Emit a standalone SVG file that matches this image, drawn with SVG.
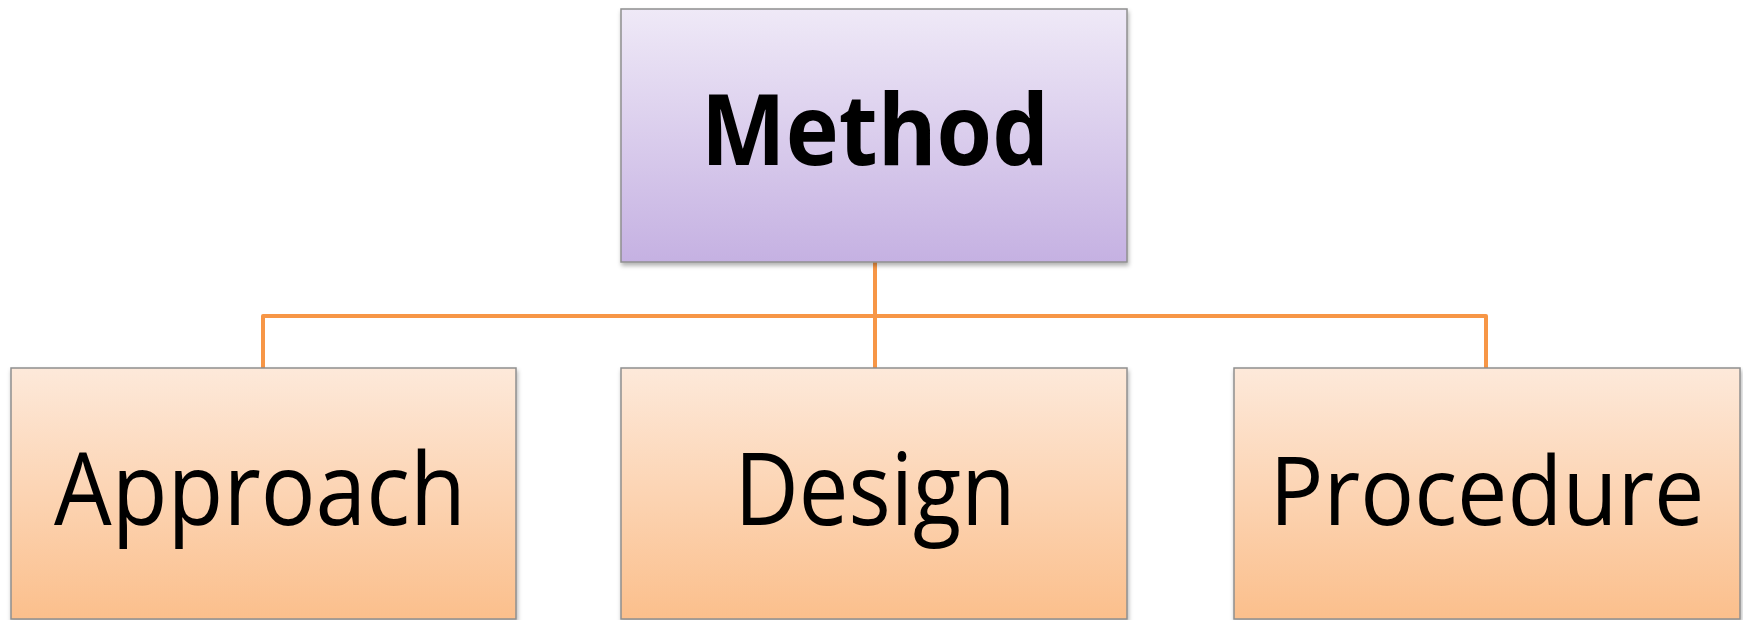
<svg xmlns="http://www.w3.org/2000/svg" width="1743" height="620" viewBox="0 0 1743 620">
<style>
.box{stroke:#8f8f8f;stroke-width:1.5}
.lbl{font-family:"Open Sans","Noto Sans",sans-serif;fill:#000;text-anchor:middle}
.sub{font-size:101px}
.conn{fill:none;stroke:#F79646;stroke-width:4;stroke-linejoin:round}
</style>
<defs>
<linearGradient id="gPurple" x1="0" y1="0" x2="0" y2="1">
<stop offset="0" stop-color="#EFE9F7"/>
<stop offset="1" stop-color="#C5B1E2"/>
</linearGradient>
<linearGradient id="gOrange" x1="0" y1="0" x2="0" y2="1">
<stop offset="0" stop-color="#FDE9DA"/>
<stop offset="1" stop-color="#FBBF8C"/>
</linearGradient>
<filter id="sh" x="-5%" y="-5%" width="110%" height="115%">
<feDropShadow dx="1" dy="3" stdDeviation="2" flood-color="#000" flood-opacity="0.3"/>
</filter>
</defs>
<g id="connectors">
<path class="conn" d="M875 262 V368"/>
<path class="conn" d="M263 368 V316 H1486 V368"/>
</g>
<g id="method">
<rect class="box" x="621" y="9" width="506" height="253" fill="url(#gPurple)" filter="url(#sh)"/>
<text class="lbl" x="875" y="165" font-size="99" font-weight="bold" textLength="348" lengthAdjust="spacingAndGlyphs">Method</text>
</g>
<g id="approach">
<rect class="box" x="11" y="368" width="505" height="251" fill="url(#gOrange)" filter="url(#sh)"/>
<text class="lbl sub" x="260" y="525" textLength="412" lengthAdjust="spacingAndGlyphs">Approach</text>
</g>
<g id="design">
<rect class="box" x="621" y="368" width="506" height="251" fill="url(#gOrange)" filter="url(#sh)"/>
<text class="lbl sub" x="875" y="525" textLength="281" lengthAdjust="spacingAndGlyphs">Design</text>
</g>
<g id="procedure">
<rect class="box" x="1234" y="368" width="506" height="251" fill="url(#gOrange)" filter="url(#sh)"/>
<text class="lbl" x="1487" y="525" font-size="96" textLength="435" lengthAdjust="spacingAndGlyphs">Procedure</text>
</g>
</svg>
